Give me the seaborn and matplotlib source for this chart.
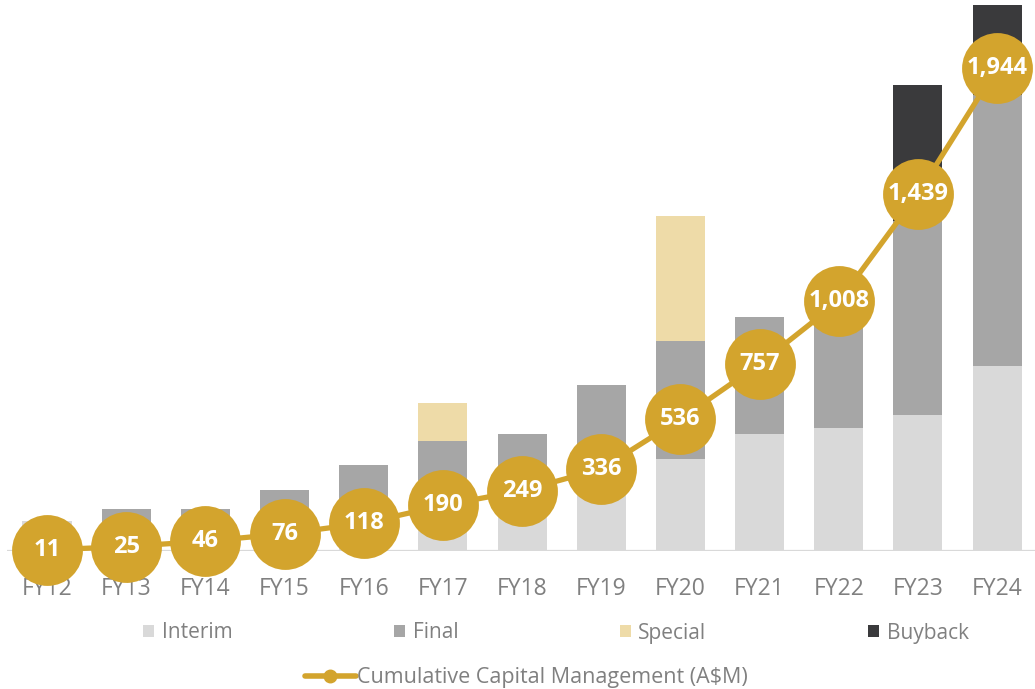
import numpy as np
import pandas as pd
import seaborn as sns
import matplotlib.pyplot as plt
from matplotlib.patches import Patch
from matplotlib.lines import Line2D

# values (A$M)
years = ["FY12", "FY13", "FY14", "FY15", "FY16", "FY17", "FY18",
         "FY19", "FY20", "FY21", "FY22", "FY23", "FY24"]
interim = [28, 18, 18, 26, 37, 50, 52, 72, 85, 108, 114, 126, 171]
final = [0, 21, 21, 30, 43, 52, 56, 82, 109, 109, 98, 179, 251]
special = [0, 0, 0, 0, 0, 35, 0, 0, 116, 0, 0, 0, 0]
buyback = [0, 0, 0, 0, 0, 0, 0, 0, 0, 0, 0, 126, 83]
cumulative = [11, 25, 46, 76, 118, 190, 249, 336, 536, 757, 1008, 1439, 1944]

GOLD = "#D3A42D"
COLORS = {"Interim": "#D9D9D9", "Final": "#A6A6A6",
          "Special": "#EEDBA8", "Buyback": "#3A3A3C"}
TEXT = "#808080"


def main():
    sns.set_theme(style="white")
    plt.rcParams["font.family"] = ["Open Sans", "DejaVu Sans"]

    df = pd.DataFrame({"year": years, "Interim": interim, "Final": final,
                       "Special": special, "Buyback": buyback})
    df["s1"] = df["Interim"]
    df["s2"] = df["s1"] + df["Final"]
    df["s3"] = df["s2"] + df["Special"]
    df["s4"] = df["s3"] + df["Buyback"]

    fig = plt.figure(figsize=(10.35, 6.89), dpi=100)
    ax = fig.add_axes([0.0072, 0.2003, 0.9944, 0.7997])

    # stacked bars: draw running totals from the top layer down
    for col, name in [("s4", "Buyback"), ("s3", "Special"), ("s2", "Final"), ("s1", "Interim")]:
        sns.barplot(data=df, x="year", y=col, color=COLORS[name], saturation=1,
                    width=0.62, ax=ax, linewidth=0)

    ax.set_xlim(-0.5, 12.5)
    ax.set_ylim(0, 510)
    ax.axhline(0, color="#D9D9D9", lw=1.6, zorder=3)
    ax.set(xlabel="", ylabel="")
    ax.set_yticks([])
    ax.tick_params(axis="x", length=0, pad=19, labelsize=16.5, labelcolor=TEXT)
    sns.despine(ax=ax, left=True, bottom=True)

    # cumulative line on its own scale, circles sit over the year labels
    ax2 = ax.twinx()
    line_df = pd.DataFrame({"pos": np.arange(len(years)), "cum": cumulative})
    sns.lineplot(data=line_df, x="pos", y="cum", ax=ax2, color=GOLD, lw=3.8,
                 marker="o", markersize=51, markeredgewidth=0, clip_on=False)
    for i, v in enumerate(cumulative):
        ax2.text(i, v, f"{v:,}", ha="center", va="center", color="white",
                 fontsize=17, fontweight="bold")
    ax2.set_ylim(7, 2217)
    ax2.set_yticks([])
    ax2.set(xlabel="", ylabel="")
    sns.despine(ax=ax2, left=True, bottom=True, right=True)

    bar_handles = [Patch(facecolor=COLORS[n], edgecolor="none", label=n)
                   for n in ["Interim", "Final", "Special", "Buyback"]]
    fig.legend(handles=bar_handles, loc="center left",
               bbox_to_anchor=(143 / 1035, 1 - 633 / 689), ncol=4, frameon=False,
               fontsize=15, labelcolor=TEXT, handlelength=0.55, handleheight=0.55,
               handletextpad=0.35, columnspacing=7.75, borderpad=0, borderaxespad=0)

    line_handle = [Line2D([0], [0], color=GOLD, lw=4, marker="o", markersize=9,
                          label="Cumulative Capital Management (A$M)")]
    fig.legend(handles=line_handle, loc="center left",
               bbox_to_anchor=(305 / 1035, 1 - 678 / 689), frameon=False,
               fontsize=15.5, labelcolor=TEXT, handlelength=2.35, handletextpad=0.05,
               borderpad=0, borderaxespad=0)

    plt.savefig("out.png", dpi=100)


if __name__ == '__main__':
    main()
